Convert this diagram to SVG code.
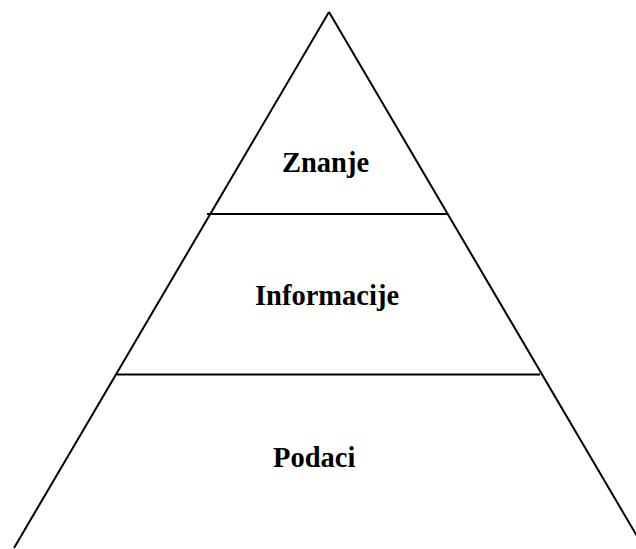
<svg xmlns="http://www.w3.org/2000/svg" width="636" height="549" viewBox="0 0 636 549">
<style>
.ln{stroke:#000;stroke-width:2;fill:none;stroke-linecap:butt}
.lbl{font-family:"Liberation Serif","Times New Roman",serif;font-weight:bold;font-size:28.5px;fill:#000}
</style>
<rect width="636" height="549" fill="#fff"/>
<g id="connectors">
<line class="ln" x1="329" y1="12" x2="14" y2="548"/>
<line class="ln" x1="329" y1="12" x2="644" y2="548"/>
<line class="ln" x1="207" y1="214" x2="447" y2="214"/>
<line class="ln" x1="117" y1="374.5" x2="540" y2="374.5"/>
</g>
<g id="znanje"><text class="lbl" x="282" y="172">Znanje</text></g>
<g id="informacije"><text class="lbl" x="255" y="305">Informacije</text></g>
<g id="podaci"><text class="lbl" x="273" y="467">Podaci</text></g>
</svg>
